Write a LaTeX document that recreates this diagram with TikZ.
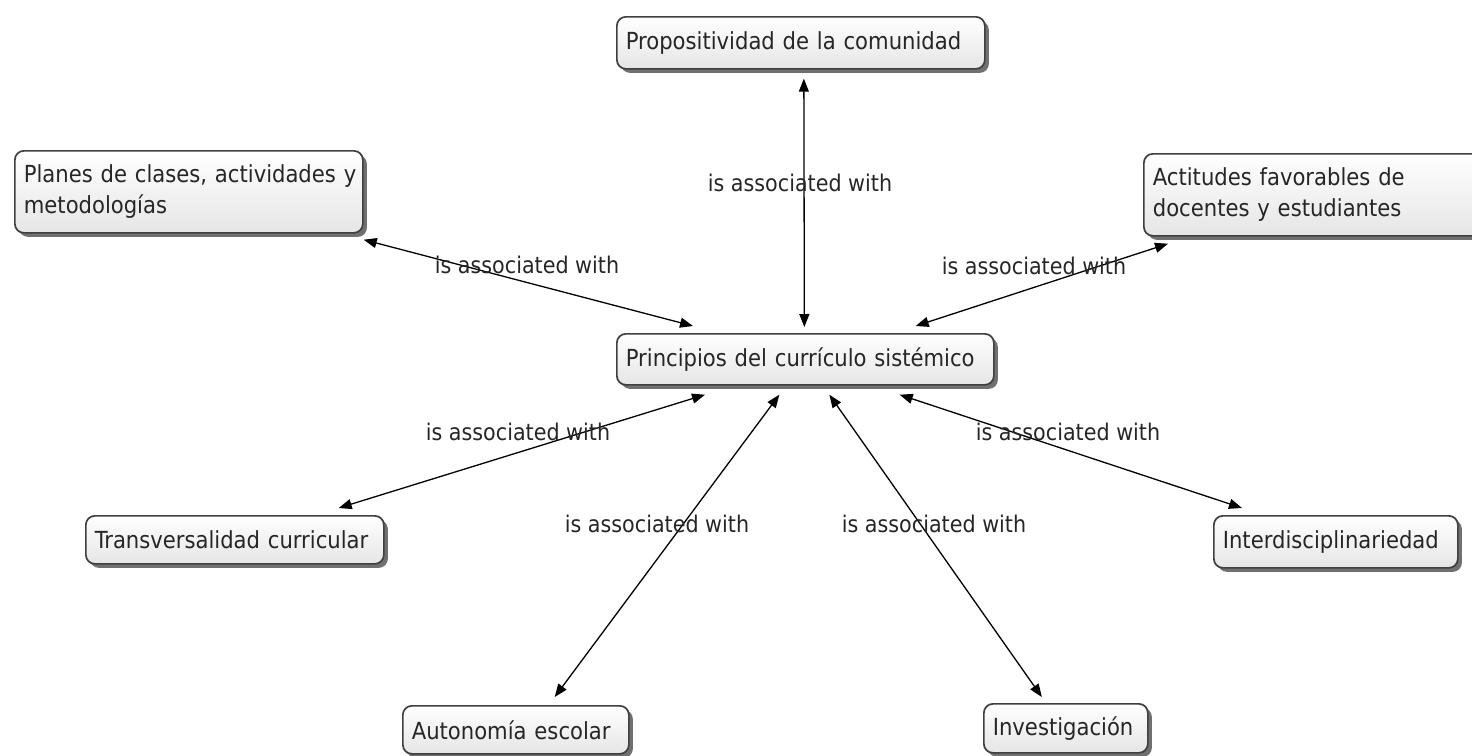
\documentclass[tikz,border=0pt]{standalone}
\usepackage{fontspec}
\setmainfont{DejaVu Sans Condensed}
\usetikzlibrary{shadows,arrows.meta}

\begin{document}
\begin{tikzpicture}[x=1pt,y=-1pt,
  concept/.style={draw=black!75, line width=1.7pt, rounded corners=9pt,
    top color=white, bottom color=black!10,
    drop shadow={shadow xshift=4pt, shadow yshift=-4pt, fill=black!70, opacity=0.8},
    inner xsep=9pt, inner ysep=0pt, anchor=north west, align=left,
    text=black!85, font=\fontsize{23.5}{31}\selectfont},
  link/.style={line width=1.3pt, {Triangle[length=13pt,width=10pt]}-{Triangle[length=13pt,width=10pt]}},
  lbl/.style={text=black!85, font=\fontsize{23}{26}\selectfont, inner sep=0pt}
]
\useasboundingbox (0,0) rectangle (1472,755);
\clip (0,0) rectangle (1472,755);

% concepts
\node[concept, minimum width=368pt, minimum height=52pt, text width=350pt] (prop) at (616,16) {\mbox{Propositividad de la comunidad}};
\node[concept, minimum width=348pt, minimum height=82pt, text width=330pt] (plan) at (14,150) {\mbox{Planes de clases, actividades y}\\metodologías};
\node[concept, minimum width=345pt, minimum height=82pt, text width=327pt] (act) at (1143,153) {Actitudes favorables de\\docentes y estudiantes};
\node[concept, minimum width=377pt, minimum height=51pt, text width=359pt] (prin) at (616,333) {\mbox{Principios del currículo sistémico}};
\node[concept, minimum width=298pt, minimum height=48pt, text width=280pt] (tra) at (85,515) {\mbox{Transversalidad curricular}};
\node[concept, minimum width=244pt, minimum height=52pt, text width=226pt] (int) at (1213,515) {\mbox{Interdisciplinariedad}};
\node[concept, minimum width=226pt, minimum height=48pt, text width=208pt] (aut) at (402,705) {\mbox{Autonomía escolar}};
\node[concept, minimum width=164pt, minimum height=49pt, text width=146pt] (inv) at (983,703) {\mbox{Investigación}};

% links
\draw[link] ([xshift=3pt,yshift=-9pt]prop.south) -- ([xshift=-1pt,yshift=6pt]prin.north);
\draw[link] ([yshift=-6pt]plan.south east) -- ([xshift=77pt,yshift=7pt]prin.north west);
\draw[link] ([xshift=25pt,yshift=-7pt]act.south west) -- ([xshift=-79pt,yshift=7pt]prin.north east);
\draw[link] ([xshift=89pt,yshift=-9pt]prin.south west) -- ([xshift=-46pt,yshift=7pt]tra.north east);
\draw[link] ([xshift=-26pt,yshift=-9pt]prin.south) -- ([xshift=-75pt,yshift=8pt]aut.north east);
\draw[link] ([xshift=24pt,yshift=-9pt]prin.south) -- ([xshift=-24pt,yshift=6pt]inv.north);
\draw[link] ([xshift=-95pt,yshift=-9pt]prin.south east) -- ([xshift=29pt,yshift=7pt]int.north west);

% link labels
\node[lbl] (l1) at (800,183) {is associated with};
\node[lbl] (l2) at (527,265) {is associated with};
\node[lbl] (l3) at (1034,266) {is associated with};
\node[lbl] (l4) at (518,432) {is associated with};
\node[lbl] (l5) at (657,524) {is associated with};
\node[lbl] (l6) at (934,524) {is associated with};
\node[lbl] (l7) at (1068,432) {is associated with};
\end{tikzpicture}
\end{document}
